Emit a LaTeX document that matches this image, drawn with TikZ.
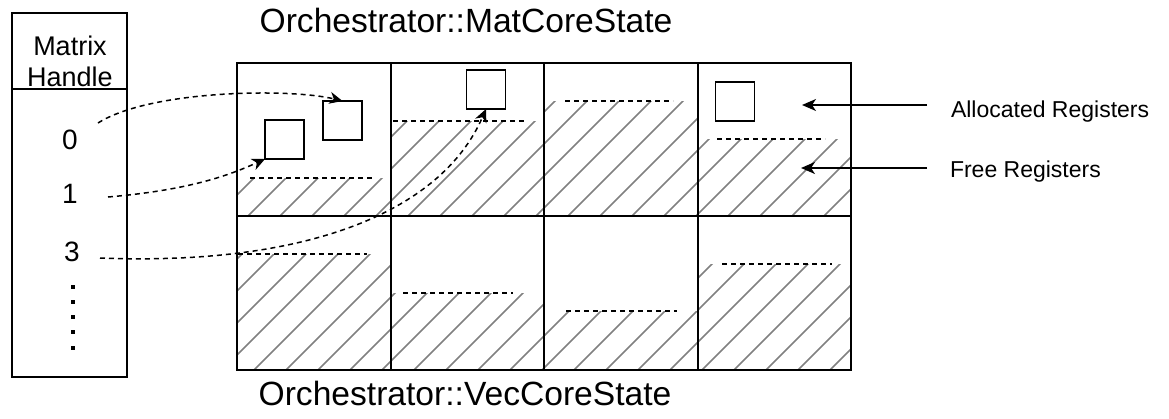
\documentclass[tikz,border=0pt]{standalone}
\usepackage{fontspec}
\setmainfont{Liberation Sans}
\usetikzlibrary{arrows.meta}
\begin{document}
\begin{tikzpicture}[x=1pt,y=-1pt,
  frame/.style={line width=1.5pt},
  regbox/.style={draw,line width=1.5pt,minimum size=39pt,inner sep=0pt,outer sep=0pt},
  level/.style={dash pattern=on 5pt off 4pt,line width=1.5pt},
  hatchline/.style={black!50,line width=1.6pt},
  link/.style={dash pattern=on 5pt off 4pt,line width=1.5pt,
    -{Stealth[length=13pt,width=12pt,inset=4pt]}},
  pointer/.style={line width=1.5pt,-{Stealth[length=14pt,width=12pt,inset=4pt]}},
  txt/.style={inner sep=0pt,outer sep=0pt},
  big/.style={font=\fontsize{33.6}{40}\selectfont},
  mid/.style={font=\fontsize{27}{31}\selectfont},
  digit/.style={font=\fontsize{28}{32}\selectfont},
  small/.style={font=\fontsize{23}{28}\selectfont}
]
\useasboundingbox (0,0) rectangle (1169,418);

% free-register areas, hatched
\begin{scope}
  \clip (237,178) rectangle (391,216)
        (391,121) rectangle (544,216)
        (544,101) rectangle (698,216)
        (698,139) rectangle (851,216)
        (237,254) rectangle (391,370)
        (391,293) rectangle (544,370)
        (544,311) rectangle (698,370)
        (698,264) rectangle (851,370);
  \foreach \c in {240,272,...,1240}
    \draw[hatchline] (\c-420,420) -- ++(420,-420);
\end{scope}

% fill levels
\draw[level] (250,178) -- (373,178);
\draw[level] (393,121) -- (525,121);
\draw[level] (565,101) -- (673,101);
\draw[level] (717,139) -- (825,139);
\draw[level] (238,254) -- (367,254);
\draw[level] (403,293) -- (513,293);
\draw[level] (566,311) -- (677,311);
\draw[level] (722,264) -- (832,264);

% core state grid
\draw[frame] (237,63) rectangle (851,370);
\draw[frame] (391,63) -- (391,370) (544,63) -- (544,370) (698,63) -- (698,370);
\draw[frame] (237,216) -- (851,216);

% allocated registers
\node[regbox] (rA) at (284.5,139.5) {};
\node[regbox] (rB) at (342.5,120.5) {};
\node[regbox] (rC) at (486,89.5) {};
\node[regbox] (rD) at (735,101.5) {};

% titles
\node[txt,big,anchor=base] (matTitle) at (466,32) {Orchestrator::MatCoreState};
\node[txt,big,anchor=base] (vecTitle) at (465,405) {Orchestrator::VecCoreState};

% matrix handle table
\draw[frame] (12,13) rectangle (127,377);
\draw[frame] (12,89) -- (127,89);
\node[txt,mid,anchor=base] (hdrA) at (70,55) {Matrix};
\node[txt,mid,anchor=base] (hdrB) at (70,86) {Handle};
\node[txt,digit,anchor=base] (h0) at (70,149) {0};
\node[txt,digit,anchor=base] (h1) at (70,203) {1};
\node[txt,digit,anchor=base] (h3) at (72,261) {3};
\foreach \y in {287,302,317,332,348}
  \fill (71.2,\y-1.8) rectangle ++(3.6,3.6);

% handle links
\coordinate (s0) at (98,123);
\coordinate (s1) at (108,197);
\coordinate (s3) at (100,258);
\draw[link] (s0) .. controls (150,90) and (290,88) .. (rB.north);
\draw[link] (s1) .. controls (190,190) and (230,175) .. (rA.south west);
\draw[link] (s3) .. controls (300,266) and (440,215) .. (rC.south);

% legend
\node[txt,small,anchor=base west] (allocLbl) at (951,117) {Allocated Registers};
\node[txt,small,anchor=base west] (freeLbl) at (950,177) {Free Registers};
\coordinate (allocTail) at (927,105);
\coordinate (allocTip) at (802,105);
\coordinate (freeTail) at (927,168);
\coordinate (freeTip) at (801,168);
\draw[pointer] (allocTail) -- (allocTip);
\draw[pointer] (freeTail) -- (freeTip);
\end{tikzpicture}
\end{document}
